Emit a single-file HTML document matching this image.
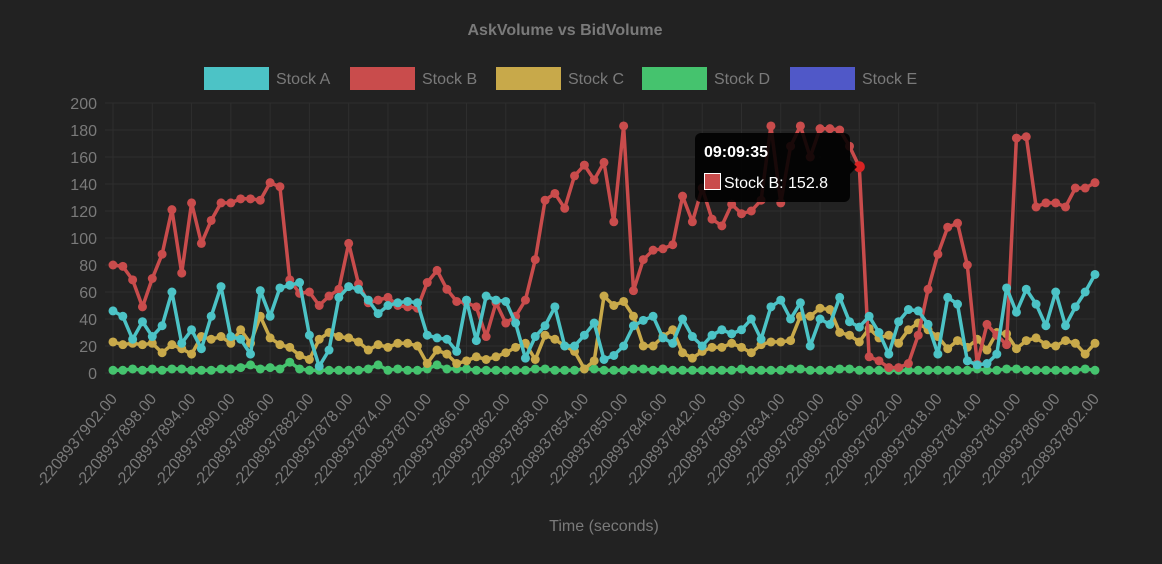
<!DOCTYPE html>
<html><head><meta charset="utf-8">
<style>
html,body{margin:0;padding:0;background:#222;}
body{width:1162px;height:559px;overflow:hidden;font-family:"Liberation Sans",sans-serif;}
</style></head>
<body>
<svg id="chart" width="1162" height="559" xmlns="http://www.w3.org/2000/svg" font-family="Liberation Sans, sans-serif">
<rect x="0" y="0" width="1162" height="559" fill="#222"/>
<text x="565" y="35" text-anchor="middle" fill="#7a7a7a" font-size="16" font-weight="bold">AskVolume vs BidVolume</text>
<g id="legend"></g>
<g id="grid"></g>
<g id="axes"></g>
<g id="series"></g>
<text x="604" y="531" text-anchor="middle" fill="#7a7a7a" font-size="16">Time (seconds)</text>
<g id="tooltip">
<rect x="695" y="133" width="155" height="69" rx="6" fill="#000" fill-opacity="0.88"/>
<path d="M850,160 L857,167 L850,174 Z" fill="#000" fill-opacity="0.88"/>
<text x="704" y="157" fill="#fff" font-size="16" font-weight="bold">09:09:35</text>
<rect x="704.5" y="173.5" width="16" height="16" fill="#c94c4c" stroke="#fff" stroke-width="1"/>
<text x="724" y="188" fill="#fff" font-size="16">Stock B: 152.8</text>
</g>
</svg>
<script>
const startTime = -2208937902;
const pointCount = 101;
const yTicks = [0,20,40,60,80,100,120,140,160,180,200];
const seriesNames = ["Stock A","Stock B","Stock C","Stock D","Stock E"];
const stockA = [46,42,25,38,27,35,60,22,32,18,42,64,27,25,14,61,42,63,65,67,28,5,17,56,64,62,54,44,50,52,53,52,28,26,25,16,54,24,57,54,53,37,11,27,35,49,20,20,28,37,10,13,20,35,39,42,26,22,40,27,20,28,32,29,32,40,25,49,54,40,52,20,40,36,56,38,34,42,30,14,38,47,46,36,14,56,51,9,6,7,14,63,45,62,51,35,60,35,49,60,73];
const stockB = [80,79,69,49,70,88,121,74,126,96,113,126,126,129,129,128,141,138,69,59,60,50,57,62,96,66,52,54,56,50,49,48,67,76,62,53,52,49,27,52,37,42,54,84,128,133,122,146,154,143,156,112,183,61,84,91,92,95,131,112,137,114,109,125,118,120,128,183,126,168,183,160,181,181,180,168,152.8,12,9,4,4,7,28,62,88,108,111,80,7,36,28,21,174,175,123,126,126,123,137,137,141];
const stockC = [23,21,22,21,22,15,21,18,14,27,25,27,22,32,22,42,26,21,19,13,10,25,30,27,26,23,17,21,19,22,22,20,7,17,14,7,9,12,10,12,15,19,22,10,28,25,20,16,3,9,57,50,53,42,20,20,27,32,15,11,16,19,19,22,19,15,21,23,23,24,42,42,48,47,30,28,23,33,26,28,22,32,37,32,27,18,24,19,25,17,30,29,18,24,26,21,20,24,22,14,22];
const stockD = [2,2,3,2,3,2,3,3,2,2,2,3,3,4,6,3,4,3,8,3,2,2,2,2,2,2,3,6,2,3,2,2,3,6,3,3,3,2,2,2,2,2,2,3,3,2,2,2,3,3,2,2,2,3,3,2,3,2,2,2,2,2,2,2,3,2,2,2,2,3,3,2,2,2,3,3,2,2,2,2,2,2,2,2,2,2,2,2,3,2,2,3,3,2,2,2,2,2,2,3,2];
const stockE = [];
const colors = ["#4cc3c6","#c94c4c","#c8a94a","#45c36e","#5058c8"];

const NS="http://www.w3.org/2000/svg";
const X0=113, X1=1095, Y0=373, Y1=103, YMAX=200;
function xScale(i){return X0+(X1-X0)*i/(pointCount-1);}
function yScale(v){return Y0-(Y0-Y1)*v/YMAX;}
function mk(tag,attrs,parent){const e=document.createElementNS(NS,tag);for(const k in attrs)e.setAttribute(k,attrs[k]);parent.appendChild(e);return e;}

const grid=document.getElementById('grid'), axes=document.getElementById('axes');
yTicks.forEach(t=>{
  const y=yScale(t);
  const l=mk('line',{x1:X0-8,x2:X1,y1:y,y2:y,stroke:'#2e2e2e','stroke-width':1},grid);
  
  
  const tx=mk('text',{x:97,y:y+6,'text-anchor':'end',fill:'#7a7a7a','font-size':16},axes);
  tx.textContent=t;
  
  
});
for(let i=0;i<pointCount;i+=4){
  const x=xScale(i);
  const l=mk('line',{x1:x,x2:x,y1:Y1,y2:Y0+6,stroke:'#2e2e2e','stroke-width':1},grid);
  
  
  const ax=x+5, ay=Y0+26;
  const tx=mk('text',{x:ax,y:ay,'text-anchor':'end',fill:'#7a7a7a','font-size':16,transform:'rotate(-50 '+ax+' '+ay+')'},axes);
  tx.textContent=(startTime+i).toFixed(2);
  
  
}

const legend=document.getElementById('legend');
const legendX=[204,350,496,642,790];
seriesNames.forEach((n,k)=>{
  const g=mk('g',{},legend);
  
  
  mk('rect',{x:legendX[k]+1.5,y:68.5,width:62,height:20,fill:colors[k],stroke:colors[k],'stroke-width':3},g);
  const t=mk('text',{x:legendX[k]+72,y:84,fill:'#7a7a7a','font-size':16},g);
  t.textContent=n;
});

const series=document.getElementById('series');
const all=[stockA,stockB,stockC,stockD,stockE];
const names=['series-stock-a','series-stock-b','series-stock-c','series-stock-d','series-stock-e'];
for(let k=all.length-1;k>=0;k--){
  const data=all[k]; if(!data.length) continue;
  const g=mk('g',{},series);
  
  
  const pts=data.map((v,i)=>xScale(i).toFixed(1)+','+yScale(v).toFixed(1)).join(' ');
  mk('polyline',{points:pts,fill:'none',stroke:colors[k],'stroke-width':3.5,'stroke-linejoin':'round'},g);
  data.forEach((v,i)=>{
    const c=mk('circle',{cx:xScale(i),cy:yScale(v),r:4.5,fill:colors[k]},g);
    
    
  });
}
const hi=mk('circle',{cx:xScale(76),cy:yScale(stockB[76]),r:5.5,fill:'#d92323'},series);


</script>
</body></html>
